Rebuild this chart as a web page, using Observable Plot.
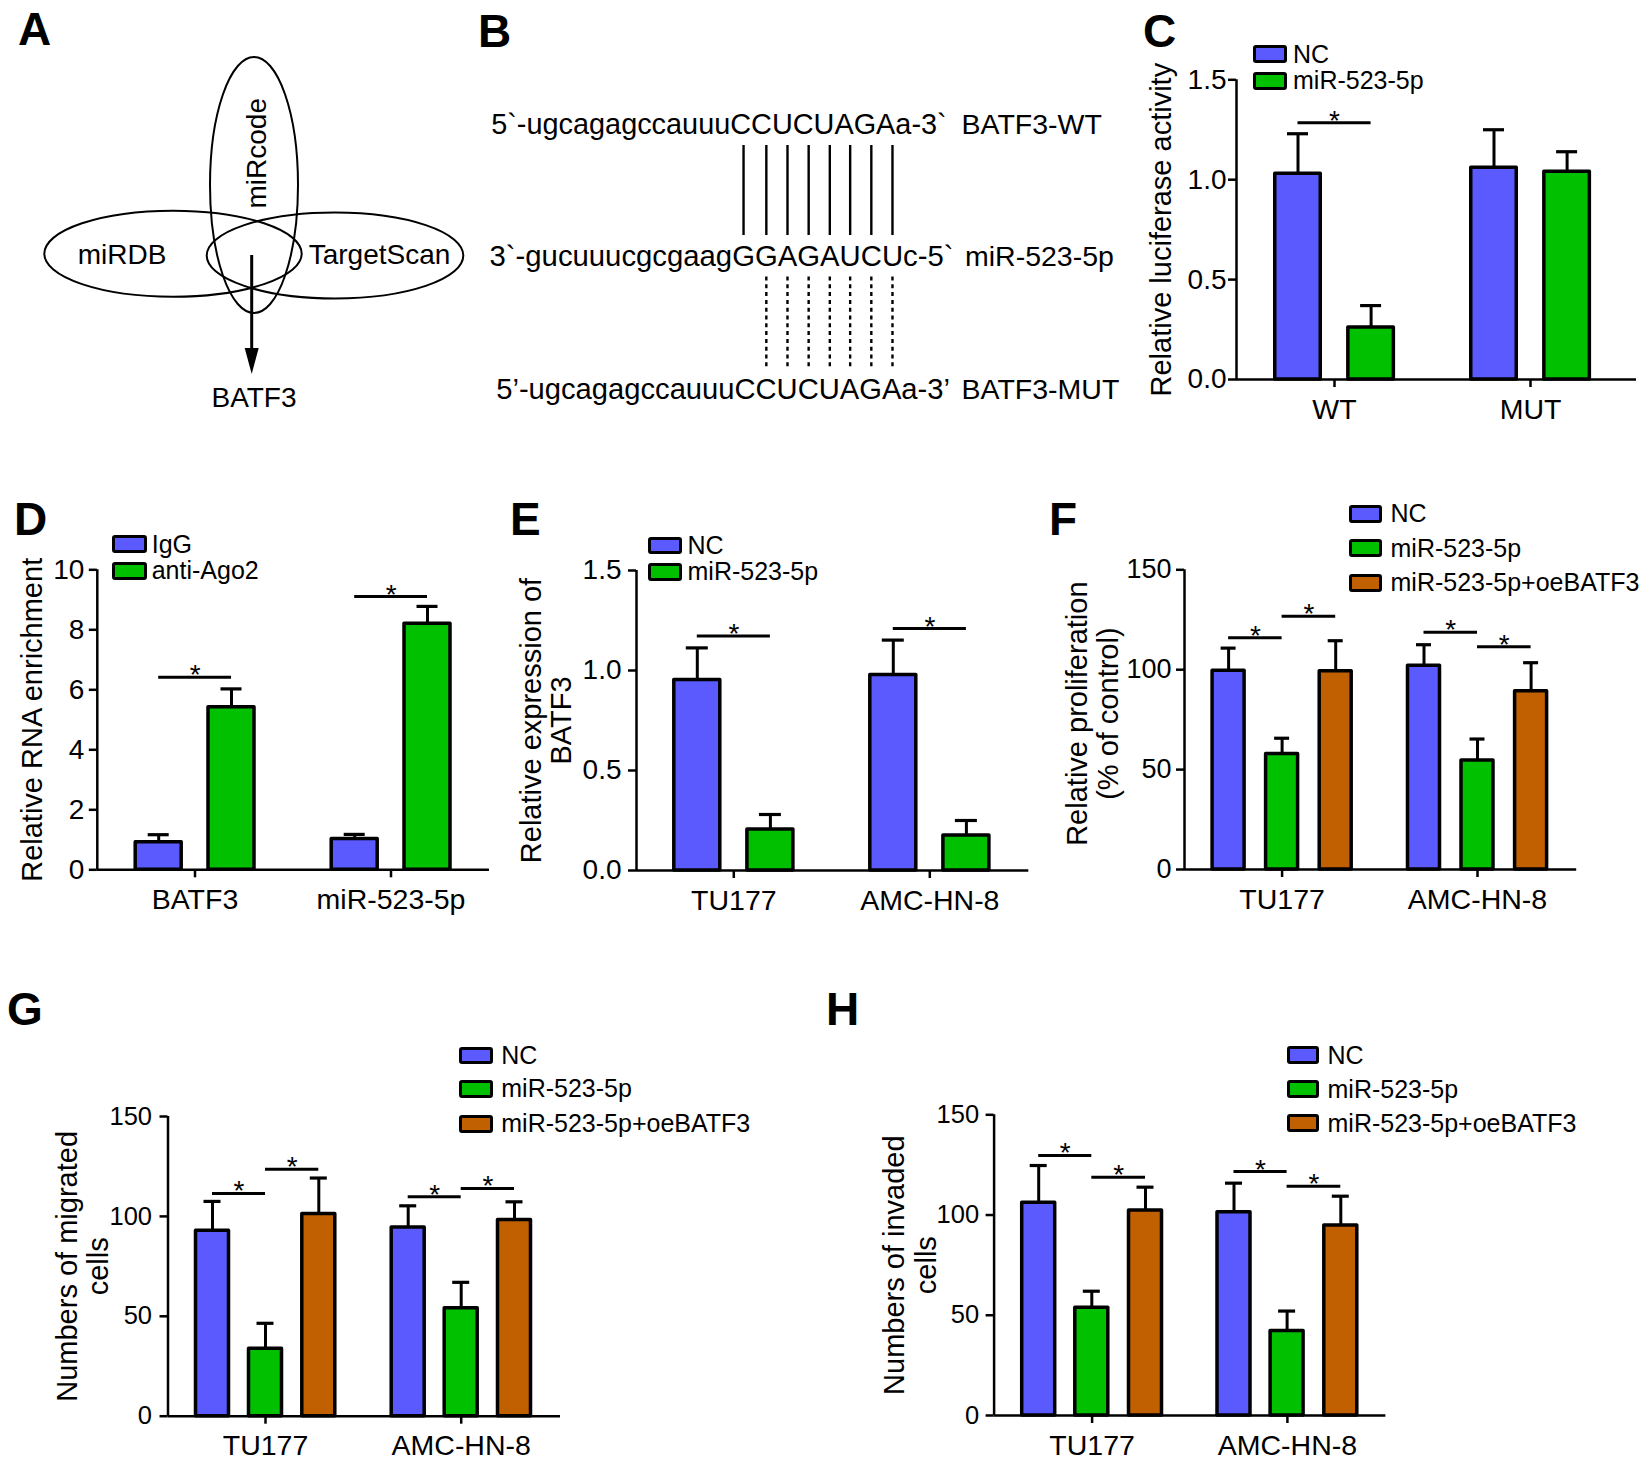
<!DOCTYPE html>
<html>
<head>
<meta charset="utf-8">
<script src="https://cdn.jsdelivr.net/npm/d3@7"></script>
<script src="https://cdn.jsdelivr.net/npm/@observablehq/plot@0.6"></script>
<style>
html, body { margin: 0; padding: 0; background: #fff; }
#fig { position: relative; width: 1650px; height: 1465px; background: #fff; overflow: hidden;
  font-family: "Liberation Sans", Arial, Helvetica, sans-serif; color: #000; }
.abs { position: absolute; }
.letter { position: absolute; font-weight: bold; font-size: 46px; line-height: 46px; white-space: nowrap; }
.sw { position: absolute; box-sizing: border-box; border: 3.5px solid #000; border-radius: 3px; }
.lt { position: absolute; font-size: 25px; line-height: 25px; white-space: nowrap; }
</style>
</head>
<body>
<div id="fig"></div>
<script>
// ---------------- DATA ----------------
// Panel A (Venn of prediction databases)
const vennSets = ["miRDB", "miRcode", "TargetScan"];
const vennTarget = "BATF3";
// Panel B (binding sites)
const seqLines = ["5`-ugcagagccauuuCCUCUAGAa-3`", "3`-gucuuucgcgaagGGAGAUCUc-5`", "5’-ugcagagccauuuCCUCUAGAa-3’"];
const seqNames = ["BATF3-WT", "miR-523-5p", "BATF3-MUT"];
const wtPairIdx = [16, 17, 18, 19, 20, 21, 22, 23];   // paired bases (solid)
const mutPairIdx = [17, 18, 19, 20, 21, 22, 23];      // paired bases (dotted)

// Panel C: luciferase
const cGroups = ["WT", "MUT"];
const cSeries = ["NC", "miR-523-5p"];
const cNC = [1.03, 1.06], cNCsd = [0.20, 0.19];
const cMiR = [0.26, 1.04], cMiRsd = [0.11, 0.10];
const cSig = [{group: 0, from: 0, to: 1, y: 1.285}];

// Panel D: RIP
const dGroups = ["BATF3", "miR-523-5p"];
const dSeries = ["IgG", "anti-Ago2"];
const dIgG = [0.92, 1.03], dIgGsd = [0.25, 0.15];
const dAgo = [5.42, 8.20], dAgosd = [0.61, 0.58];
const dSig = [{group: 0, from: 0, to: 1, y: 6.42}, {group: 1, from: 0, to: 1, y: 9.11}];

// Panel E: BATF3 expression
const eGroups = ["TU177", "AMC-HN-8"];
const eSeries = ["NC", "miR-523-5p"];
const eNC = [0.953, 0.978], eNCsd = [0.16, 0.174];
const eMiR = [0.205, 0.175], eMiRsd = [0.075, 0.075];
const eSig = [{group: 0, from: 0, to: 1, y: 1.172}, {group: 1, from: 0, to: 1, y: 1.21}];

// Panels F, G, H
const cellGroups = ["TU177", "AMC-HN-8"];
const triSeries = ["NC", "miR-523-5p", "miR-523-5p+oeBATF3"];
const fNC = [99.5, 102.0], fNCsd = [11.3, 10.5];
const fMiR = [57.8, 54.5], fMiRsd = [7.9, 10.8];
const fOe = [99.2, 89.2], fOesd = [15.3, 14.3];
const fSig = [{group: 0, from: 0, to: 1, y: 116}, {group: 0, from: 1, to: 2, y: 126.7},
              {group: 1, from: 0, to: 1, y: 118.7}, {group: 1, from: 1, to: 2, y: 111.5}];
const gNC = [92.8, 94.5], gNCsd = [14.7, 10.8];
const gMiR = [33.7, 54.0], gMiRsd = [12.8, 13.0];
const gOe = [101.2, 98.2], gOesd = [18.0, 9.1];
const gSig = [{group: 0, from: 0, to: 1, y: 111.5}, {group: 0, from: 1, to: 2, y: 123.6},
              {group: 1, from: 0, to: 1, y: 109.8}, {group: 1, from: 1, to: 2, y: 114}];
const hNC = [106.1, 101.4], hNCsd = [18.6, 14.5];
const hMiR = [53.7, 42.1], hMiRsd = [8.3, 10.0];
const hOe = [102.3, 94.8], hOesd = [11.6, 14.6];
const hSig = [{group: 0, from: 0, to: 1, y: 129.7}, {group: 0, from: 1, to: 2, y: 118.9},
              {group: 1, from: 0, to: 1, y: 121.7}, {group: 1, from: 1, to: 2, y: 114.4}];

const ticks15 = [0, 0.5, 1.0, 1.5];
const ticks10 = [0, 2, 4, 6, 8, 10];
const ticks150 = [0, 50, 100, 150];

// ---------------- STYLE ----------------
const FONT = '"Liberation Sans", Arial, Helvetica, sans-serif';
const BLUE = "#5a5aff", GREEN = "#00c000", ORANGE = "#c06000";

const fig = d3.select("#fig");

// ---------------- Panel letters ----------------
const panelLetters = ["A", "B", "C", "D", "E", "F", "G", "H"];
const letterAt = [[18, 45], [478, 46.7], [1143, 46.7], [14, 535], [510, 535], [1049, 535], [7, 1025], [826, 1025]];
panelLetters.forEach((t, i) => {
  fig.append("div").attr("class", "letter")
    .style("left", letterAt[i][0] + "px").style("top", (letterAt[i][1] - 39) + "px").text(t);
});

// ---------------- Panels A & B (diagrams) ----------------
const dsvg = fig.append("svg").attr("class", "abs").style("left", "0px").style("top", "0px")
  .attr("width", 1200).attr("height", 440)
  .style("font-family", FONT).style("overflow", "visible");

const vennShape = [
  {cx: 173, cy: 253.7, rx: 128.7, ry: 43},
  {cx: 254, cy: 185, rx: 44, ry: 128},
  {cx: 335, cy: 255.5, rx: 128.3, ry: 43}
];
dsvg.selectAll("ellipse").data(vennShape).join("ellipse")
  .attr("cx", d => d.cx).attr("cy", d => d.cy).attr("rx", d => d.rx).attr("ry", d => d.ry)
  .attr("fill", "none").attr("stroke", "#000").attr("stroke-width", 2);
const vennLabelPos = [{x: 122, y: 264, r: 0}, {x: 266, y: 153.3, r: -90}, {x: 379.5, y: 264, r: 0}];
vennSets.forEach((s, i) => {
  const p = vennLabelPos[i];
  dsvg.append("text").attr("transform", `translate(${p.x},${p.y}) rotate(${p.r})`)
    .attr("text-anchor", "middle").attr("font-size", 28).text(s);
});
dsvg.append("line").attr("x1", 251.7).attr("x2", 251.7).attr("y1", 255).attr("y2", 352)
  .attr("stroke", "#000").attr("stroke-width", 3);
dsvg.append("path").attr("d", "M244.7,348 L258.7,348 L251.7,374 Z").attr("fill", "#000");
dsvg.append("text").attr("x", 254).attr("y", 406.7).attr("text-anchor", "middle")
  .attr("font-size", 28).text(vennTarget);

const seqX = [491.2, 489.5, 496.2], seqW = [455.5, 464, 453.8], seqY = [134, 265.5, 398.5];
const nameX = [961.5, 965, 961.5];
const seqNodes = seqLines.map((s, i) => dsvg.append("text").attr("x", seqX[i]).attr("y", seqY[i])
  .attr("font-size", 29).attr("textLength", seqW[i]).attr("lengthAdjust", "spacingAndGlyphs").text(s).node());
seqNames.forEach((s, i) => dsvg.append("text").attr("x", nameX[i]).attr("y", seqY[i]).attr("font-size", 28.5).text(s));
function charCenter(node, idx) {
  try { const e = node.getExtentOfChar(idx); return e.x + e.width / 2; } catch (err) { return null; }
}
wtPairIdx.forEach(i => {
  const x = charCenter(seqNodes[1], i);
  if (x != null) dsvg.append("line").attr("x1", x).attr("x2", x).attr("y1", 145).attr("y2", 235)
    .attr("stroke", "#000").attr("stroke-width", 2.4);
});
mutPairIdx.forEach(i => {
  const x = charCenter(seqNodes[1], i);
  if (x != null) dsvg.append("line").attr("x1", x).attr("x2", x).attr("y1", 276.5).attr("y2", 369)
    .attr("stroke", "#000").attr("stroke-width", 2.4).attr("stroke-dasharray", "4 3.8");
});

// ---------------- Bar panels ----------------
function drawBars(cfg) {
  const L = cfg.layout;
  const step = L.tick1 - L.tick0;
  const u = px => px / step;
  const d0 = -(L.tick0 - L.axisX) / step;
  const d1 = 1 + (L.xEnd - L.tick1) / step;
  const center = (i, k) => i + u(L.offsets[k]);
  const rows = [];
  cfg.series.forEach((name, k) => cfg.groups.forEach((g, i) => {
    rows.push({k, i, c: center(i, k), v: cfg.means[k][i], top: cfg.means[k][i] + cfg.sds[k][i]});
  }));
  const sigRows = cfg.sig.map(s => ({x1: center(s.group, s.from), x2: center(s.group, s.to), y: s.y}));
  const marks = [
    Plot.ruleX(rows, {x: "c", y1: "v", y2: "top", stroke: "#000", strokeWidth: 3}),
    Plot.ruleY(rows, {y: "top", x1: d => d.c - u(L.cap), x2: d => d.c + u(L.cap), stroke: "#000", strokeWidth: 3.2})
  ];
  cfg.series.forEach((name, k) => {
    marks.push(Plot.rect(rows.filter(r => r.k === k), {
      x1: d => d.c - u(L.barW / 2), x2: d => d.c + u(L.barW / 2), y1: 0, y2: "v",
      fill: cfg.colors[k], stroke: "#000", strokeWidth: 3.5, strokeLinejoin: "round"
    }));
  });
  marks.push(
    Plot.ruleY([0], {stroke: "#000", strokeWidth: 2.5}),
    Plot.ruleX([d0], {y1: 0, y2: cfg.yTicks[cfg.yTicks.length - 1], stroke: "#000", strokeWidth: 2.5}),
    Plot.axisY({ticks: cfg.yTicks, tickFormat: cfg.yFormat, tickSize: 8, tickPadding: L.tickPad,
      strokeWidth: 2.5, fontSize: cfg.tickFont, label: null}),
    Plot.axisX({ticks: cfg.groups.map((g, i) => i), tickFormat: i => cfg.groups[i], tickSize: 8,
      tickPadding: 11, strokeWidth: 2.5, fontSize: 28.5, label: null}),
    Plot.ruleY(sigRows, {y: "y", x1: "x1", x2: "x2", stroke: "#000", strokeWidth: 3}),
    Plot.text(sigRows, {x: d => (d.x1 + d.x2) / 2, y: "y", text: () => "*", fontSize: 28,
      lineAnchor: "bottom", dy: 7})
  );
  cfg.yLabel.forEach((line, j) => marks.push(Plot.text([line], {
    text: d => d, frameAnchor: "left", rotate: -90, dx: L.labelDx[j], dy: L.labelDy || 0,
    fontSize: 29, textAnchor: "middle", lineAnchor: "middle"
  })));
  const chart = Plot.plot({
    width: L.w, height: L.h,
    marginLeft: L.axisX - L.left, marginTop: L.yTop - L.top,
    marginRight: L.left + L.w - L.xEnd, marginBottom: L.top + L.h - L.y0,
    x: {type: "linear", domain: [d0, d1]},
    y: {type: "linear", domain: [0, cfg.yTicks[cfg.yTicks.length - 1]]},
    style: {fontFamily: FONT, background: "transparent", overflow: "visible", color: "#000"},
    marks
  });
  const wrap = fig.append("div").attr("class", "abs").style("left", L.left + "px").style("top", L.top + "px");
  wrap.node().appendChild(chart);
  // legend
  const G = cfg.legend;
  cfg.series.forEach((name, k) => {
    fig.append("div").attr("class", "sw").style("left", G.x + "px").style("top", G.ys[k] + "px")
      .style("width", G.w + "px").style("height", G.h + "px").style("background", cfg.colors[k]);
    fig.append("div").attr("class", "lt").style("left", G.tx + "px")
      .style("top", (G.ys[k] + G.h / 2 - 12.5) + "px").text(name);
  });
}

const f1 = d3.format(".1f"), f0 = d3.format("d");

drawBars({
  groups: cGroups, series: cSeries, means: [cNC, cMiR], sds: [cNCsd, cMiRsd], sig: cSig,
  colors: [BLUE, GREEN], yTicks: ticks15, yFormat: f1, tickFont: 28,
  yLabel: ["Relative luciferase activity"],
  layout: {left: 1100, top: 0, w: 550, h: 440, axisX: 1236, yTop: 79.3, y0: 379, xEnd: 1636,
    tick0: 1334, tick1: 1530, offsets: [-36.5, 36.6], barW: 45.5, cap: 10.5, tickPad: 2, labelDx: [-75]},
  legend: {x: 1253.3, ys: [45, 71.7], w: 33.4, h: 18.3, tx: 1293}
});

drawBars({
  groups: dGroups, series: dSeries, means: [dIgG, dAgo], sds: [dIgGsd, dAgosd], sig: dSig,
  colors: [BLUE, GREEN], yTicks: ticks10, yFormat: f0, tickFont: 28,
  yLabel: ["Relative RNA enrichment"],
  layout: {left: 0, top: 480, w: 520, h: 460, axisX: 96.8, yTop: 569.3, y0: 869.3, xEnd: 489,
    tick0: 194.5, tick1: 390.5, offsets: [-36.3, 36.5], barW: 46, cap: 10.5, tickPad: 5, labelDx: [-64.3]},
  legend: {x: 111.7, ys: [535, 561.7], w: 35, h: 18, tx: 151.7}
});

drawBars({
  groups: eGroups, series: eSeries, means: [eNC, eMiR], sds: [eNCsd, eMiRsd], sig: eSig,
  colors: [BLUE, GREEN], yTicks: ticks15, yFormat: f1, tickFont: 28,
  yLabel: ["Relative expression of", "BATF3"],
  layout: {left: 500, top: 480, w: 540, h: 460, axisX: 636, yTop: 570, y0: 870, xEnd: 1028.3,
    tick0: 733.3, tick1: 929.3, offsets: [-36.5, 36.6], barW: 46, cap: 11, tickPad: 7, labelDx: [-104.3, -74.3]},
  legend: {x: 647.7, ys: [536.7, 563.3], w: 34.6, h: 17.3, tx: 687.5}
});

drawBars({
  groups: cellGroups, series: triSeries, means: [fNC, fMiR, fOe], sds: [fNCsd, fMiRsd, fOesd], sig: fSig,
  colors: [BLUE, GREEN, ORANGE], yTicks: ticks150, yFormat: f0, tickFont: 27,
  yLabel: ["Relative proliferation", "(% of control)"],
  layout: {left: 1040, top: 480, w: 610, h: 460, axisX: 1184, yTop: 569.3, y0: 869, xEnd: 1576.2,
    tick0: 1281.6, tick1: 1477, offsets: [-53.5, 0, 53.6], barW: 32, cap: 7.5, tickPad: 5,
    labelDx: [-107, -76], labelDy: -6},
  legend: {x: 1349.3, ys: [505, 539.3, 574], w: 33.1, h: 17.7, tx: 1390.5}
});

drawBars({
  groups: cellGroups, series: triSeries, means: [gNC, gMiR, gOe], sds: [gNCsd, gMiRsd, gOesd], sig: gSig,
  colors: [BLUE, GREEN, ORANGE], yTicks: ticks150, yFormat: f0, tickFont: 25.5,
  yLabel: ["Numbers of migrated", "cells"],
  layout: {left: 0, top: 1040, w: 800, h: 425, axisX: 167.5, yTop: 1116, y0: 1415.7, xEnd: 560,
    tick0: 265, tick1: 460.7, offsets: [-53, 0, 53.3], barW: 33, cap: 8.5, tickPad: 8,
    labelDx: [-100, -69.5]},
  legend: {x: 459.3, ys: [1046.7, 1080, 1115], w: 34, h: 17.7, tx: 501.3}
});

drawBars({
  groups: cellGroups, series: triSeries, means: [hNC, hMiR, hOe], sds: [hNCsd, hMiRsd, hOesd], sig: hSig,
  colors: [BLUE, GREEN, ORANGE], yTicks: ticks150, yFormat: f0, tickFont: 25.5,
  yLabel: ["Numbers of invaded", "cells"],
  layout: {left: 820, top: 1040, w: 830, h: 425, axisX: 993.6, yTop: 1114.3, y0: 1415, xEnd: 1385.4,
    tick0: 1091.6, tick1: 1286.9, offsets: [-53.4, -0.3, 53.4], barW: 33, cap: 8.5, tickPad: 7,
    labelDx: [-99.5, -67.7]},
  legend: {x: 1286.9, ys: [1046, 1080, 1114], w: 31.8, h: 18, tx: 1327.5}
});
</script>
</body>
</html>
